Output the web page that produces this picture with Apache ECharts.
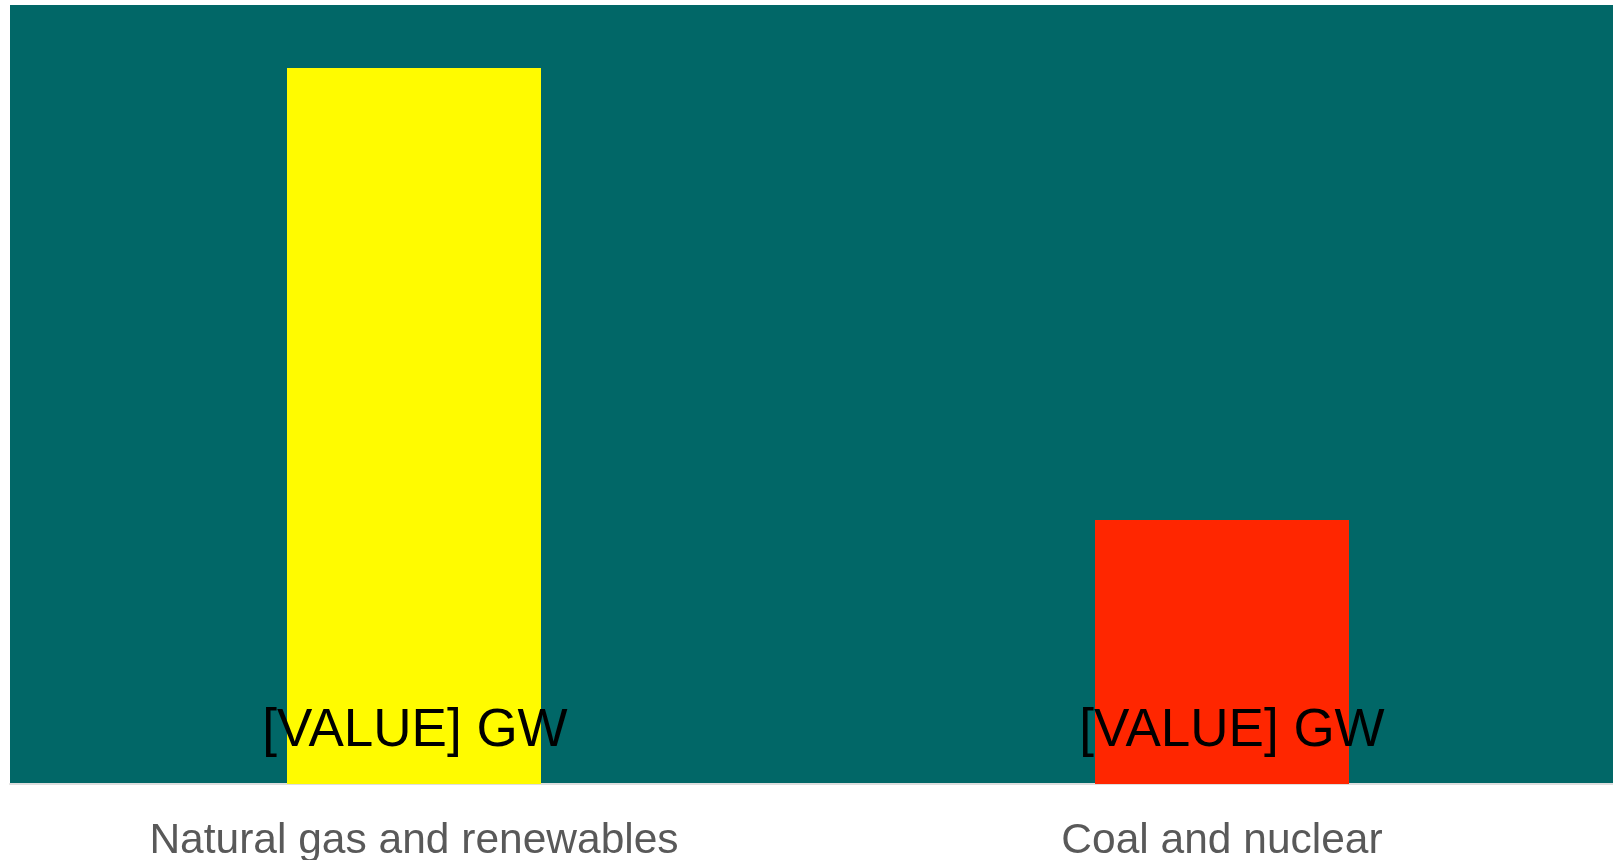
<!DOCTYPE html>
<html>
<head>
<meta charset="utf-8">
<script src="https://cdn.jsdelivr.net/npm/echarts@6/dist/echarts.min.js"></script>
<style>
html,body{margin:0;padding:0;background:#ffffff;}
#chart{width:1613px;height:860px;}
</style>
</head>
<body>
<div id="chart"></div>
<script>
// Data
const categories = ['Natural gas and renewables', 'Coal and nuclear'];
const values = [91.9, 33.9];
const labelText = '[VALUE] GW';

// Styles (kept separate from data)
const barColors = ['#FFFB00', '#FF2600'];
const labelShiftX = [1, 10];

const chart = echarts.init(document.getElementById('chart'), null, {renderer: 'canvas'});
const option = {
  animation: false,
  backgroundColor: '#ffffff',
  grid: {
    left: 10, top: 5, width: 1616, bottom: 76,
    show: true, backgroundColor: '#016767', borderWidth: 0,
    containLabel: false,
    outerBoundsMode: 'none'
  },
  xAxis: {
    type: 'category',
    data: categories,
    axisLine: {show: true, lineStyle: {color: '#dedede', width: 2}},
    axisTick: {show: false},
    axisLabel: {
      color: '#595959', fontSize: 42.5, margin: 36,
      fontFamily: 'Liberation Sans, Arial, sans-serif'
    },
    splitLine: {show: false}
  },
  yAxis: {
    type: 'value', min: 0, max: 100, show: false,
    splitLine: {show: false}
  },
  series: [{
    type: 'bar',
    barWidth: 254,
    data: values.map((v, i) => ({
      value: v,
      itemStyle: {color: barColors[i]},
      label: {offset: [labelShiftX[i], 0]}
    })),
    label: {
      show: true,
      position: 'insideBottom',
      distance: 26,
      formatter: () => labelText,
      color: '#000000',
      fontSize: 53,
      fontFamily: 'Liberation Sans, Arial, sans-serif'
    }
  }]
};
chart.setOption(option);
</script>
</body>
</html>
